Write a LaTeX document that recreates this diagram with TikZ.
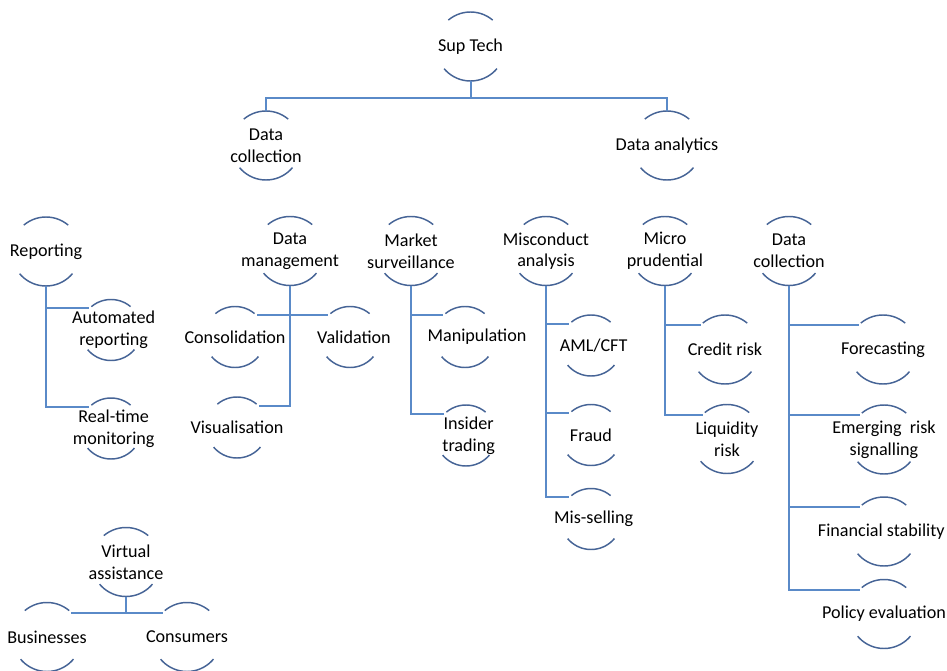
\documentclass[tikz,border=0pt]{standalone}
\usepackage{fontspec}
\setmainfont{Carlito}
\definecolor{ringblue}{RGB}{70,100,150}
\definecolor{linkblue}{RGB}{90,138,200}
\tikzset{
  txt/.style={font=\fontsize{13.6}{16.2}\selectfont, align=center, text=black, inner sep=0pt},
  bigring/.style={circle, draw=ringblue, line width=1.1pt, inner sep=0pt, outer sep=0pt,
    minimum size=51.75pt,
    dash pattern=on 36.13pt off 40.64pt on 45.16pt off 40.64pt, dash phase=140.0pt},
  smallring/.style={circle, draw=ringblue, line width=1.1pt, inner sep=0pt, outer sep=0pt,
    minimum size=45.75pt,
    dash pattern=on 31.94pt off 35.93pt on 39.93pt off 35.93pt, dash phase=123.77pt},
  link/.style={draw=linkblue, line width=1.5pt}
}
\begin{document}
\begin{tikzpicture}[x=0.75pt,y=-0.75pt]
  \useasboundingbox (0,0) rectangle (947,671);
  % top
  \node[bigring,label={[txt]center:Sup Tech}] (st) at (470.5,46.5) {};
  \node[bigring,label={[txt]center:Data\\collection}] (dcl) at (266,145.5) {};
  \node[bigring,label={[txt]center:Data analytics}] (dan) at (667,145.5) {};
  % reporting
  \node[bigring,label={[txt]center:Reporting}] (rep) at (46,251.5) {};
  \node[smallring,label={[txt,xshift=2pt]center:Automated\\reporting}] (aut) at (111,330) {};
  \node[smallring,label={[txt,xshift=2pt]center:Real-time\\monitoring}] (rtm) at (111,428.5) {};
  % data management
  \node[bigring,label={[txt]center:Data\\management}] (dm) at (290,251) {};
  \node[smallring,label={[txt]center:Consolidation}] (cons) at (235,337) {};
  \node[smallring,label={[txt,xshift=3pt]center:Validation}] (val) at (350,337) {};
  \node[smallring,label={[txt]center:Visualisation}] (vis) at (237,427.5) {};
  % market surveillance
  \node[bigring,label={[txt]center:Market\\surveillance}] (ms) at (411,251) {};
  \node[smallring,label={[txt,xshift=9pt]center:Manipulation}] (man) at (465,337) {};
  \node[smallring,label={[txt,xshift=2pt]center:Insider\\trading}] (ins) at (466,435.5) {};
  % misconduct analysis
  \node[bigring,label={[txt]center:Misconduct\\analysis}] (mca) at (546,251) {};
  \node[smallring,label={[txt,xshift=2pt]center:AML/CFT}] (aml) at (591,345.5) {};
  \node[smallring,label={[txt]center:Fraud}] (fra) at (591,435) {};
  \node[smallring,label={[txt,xshift=2pt]center:Mis-selling}] (mis) at (591,519) {};
  % micro prudential
  \node[bigring,label={[txt]center:Micro\\prudential}] (mp) at (665,251) {};
  \node[bigring,label={[txt]center:Credit risk}] (crd) at (725,349.5) {};
  \node[bigring,label={[txt]center:Liquidity\\risk}] (liq) at (727,439) {};
  % data collection
  \node[bigring,label={[txt]center:Data\\collection}] (dcr) at (789,251) {};
  \node[bigring,label={[txt]center:Forecasting}] (fc) at (883,349.5) {};
  \node[bigring,label={[txt]center:Emerging~~risk\\signalling}] (ers) at (884,439.5) {};
  \node[bigring,label={[txt,xshift=-2pt]center:Financial~stability}] (fs) at (884,531.5) {};
  \node[bigring,label={[txt]center:Policy evaluation}] (pe) at (884,614) {};
  % virtual assistance
  \node[bigring,label={[txt]center:Virtual\\assistance}] (va) at (126,562) {};
  \node[bigring,label={[txt]center:Businesses}] (bus) at (47,637) {};
  \node[bigring,label={[txt]center:Consumers}] (con) at (187,637) {};
  % connectors
  \draw[link] (st.south) -- ++(0,17) -| (dcl.north);
  \draw[link] (st.south) -- ++(0,17) -| (dan.north);
  \draw[link] (rep.south) |- (aut.135);
  \draw[link] (rep.south) |- (rtm.135);
  \draw[link] (dm.south) |- (cons.45);
  \draw[link] (dm.south) |- (val.135);
  \draw[link] (dm.south) |- (vis.45);
  \draw[link] (ms.south) |- (man.135);
  \draw[link] (ms.south) |- (ins.135);
  \draw[link] (mca.south) |- (aml.135);
  \draw[link] (mca.south) |- (fra.135);
  \draw[link] (mca.south) |- (mis.135);
  \draw[link] (mp.south) |- (crd.135);
  \draw[link] (mp.south) |- (liq.135);
  \draw[link] (dcr.south) |- (fc.135);
  \draw[link] (dcr.south) |- (ers.135);
  \draw[link] (dcr.south) |- (fs.135);
  \draw[link] (dcr.south) |- (pe.135);
  \draw[link] (va.south) |- (bus.45);
  \draw[link] (va.south) |- (con.135);
\end{tikzpicture}
\end{document}
